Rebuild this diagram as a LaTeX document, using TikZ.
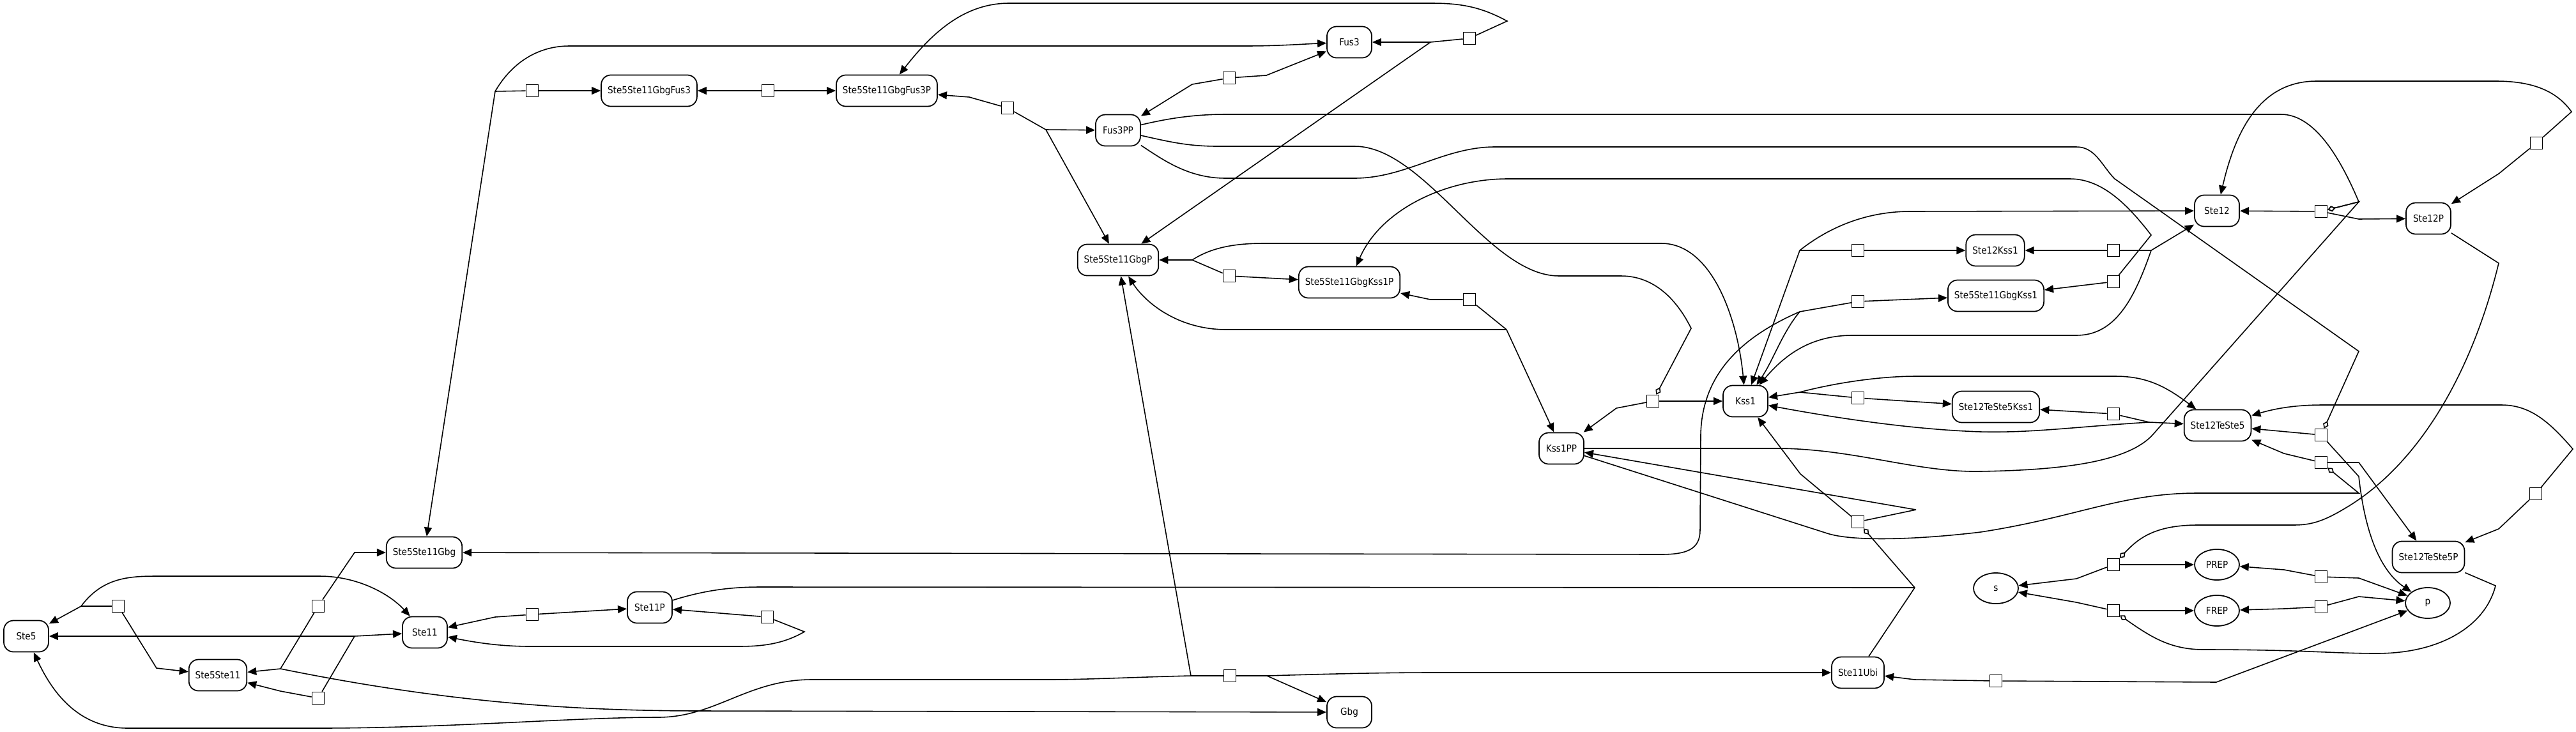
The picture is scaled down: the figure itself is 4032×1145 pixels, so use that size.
\documentclass[tikz,border=0pt]{standalone}
\usepackage{fontspec}
\newfontfamily\cellfont{DejaVu Sans Condensed}
\usetikzlibrary{arrows.meta,shapes.geometric}

\begin{document}
\begin{tikzpicture}[x=0.01cm,y=-0.01cm,>={Triangle[length=4pt,width=3.4pt]},
  line width=0.45pt,
  species node/.style={rectangle,rounded corners=0.15cm,draw,line width=0.5pt,
  font=\cellfont\fontsize{4.3}{5}\selectfont,minimum width=0.7cm,
  minimum height=0.49cm,inner xsep=0.1cm},
  gene node/.style={ellipse,draw,line width=0.5pt,
  font=\cellfont\fontsize{4.3}{5}\selectfont,minimum width=0.7cm,
  minimum height=0.48cm,inner sep=0pt},
  process node/.style={rectangle,draw,fill=white,minimum size=0.19cm,inner sep=0pt},
  mod/.style={-{Diamond[open,length=3.6pt,width=2.6pt]}}]

  \useasboundingbox (0,0) rectangle (4032,1145);

  \node[species node] (Ste5) at (41,996) {Ste5};
  \node[species node] (Ste5Ste11) at (341,1057) {Ste5Ste11};
  \node[species node] (Ste11) at (665,990) {Ste11};
  \node[species node] (Ste11P) at (1017,951) {Ste11P};
  \node[species node] (Ste5Ste11Gbg) at (664,865) {Ste5Ste11Gbg};
  \node[species node] (Ste5Ste11GbgFus3) at (1016,142) {Ste5Ste11GbgFus3};
  \node[species node] (Ste5Ste11GbgFus3P) at (1388,142) {Ste5Ste11GbgFus3P};
  \node[species node] (Fus3) at (2112,66) {Fus3};
  \node[species node] (Fus3PP) at (1750,204) {Fus3PP};
  \node[species node] (Ste5Ste11GbgP) at (1750,407) {Ste5Ste11GbgP};
  \node[species node] (Ste5Ste11GbgKss1P) at (2112,442) {Ste5Ste11GbgKss1P};
  \node[species node] (Ste12Kss1) at (3123,392) {Ste12Kss1};
  \node[species node] (Ste5Ste11GbgKss1) at (3124,463) {Ste5Ste11GbgKss1};
  \node[species node] (Ste12) at (3470,330) {Ste12};
  \node[species node] (Ste12P) at (3801,342) {Ste12P};
  \node[species node] (Kss1) at (2732,628) {Kss1};
  \node[species node] (Kss1PP) at (2444,702) {Kss1PP};
  \node[species node] (Ste12TeSte5Kss1) at (3124,637) {Ste12TeSte5Kss1};
  \node[species node] (Ste12TeSte5) at (3471,666) {Ste12TeSte5};
  \node[species node] (Ste12TeSte5P) at (3801,872) {Ste12TeSte5P};
  \node[species node] (Ste11Ubi) at (2908,1053) {Ste11Ubi};
  \node[species node] (Gbg) at (2112,1115) {Gbg};
  \node[gene node] (s) at (3124,921) {s};
  \node[gene node] (PREP) at (3470,884) {PREP};
  \node[gene node] (FREP) at (3470,956) {FREP};
  \node[gene node] (p) at (3800,944) {p};

  % reaction boxes
  \foreach \n/\x/\y in {r1/185/949, r2/498/949, r3/498/1093, r4/833/962,
      r5/1201/966, r6/833/142, r7/1202/142, r8/1577/169, r9/1924/122,
      r10/2300/60, r11/1924/432, r12/2300/469, r13/1925/1058, r14/2587/628,
      r15/2908/817, r16/2908/392, r17/2908/472, r18/2908/623, r19/3308/392,
      r20/3308/441, r21/3308/648, r22/3633/331, r23/3970/224, r24/3633/681,
      r25/3633/724, r26/3969/773, r27/3308/884, r28/3308/956, r29/3633/903,
      r30/3633/950, r31/3124/1066}
    \node[process node] (\n) at (\x,\y) {};

  \coordinate (j1) at (127,949);
  \coordinate (j2) at (439,1047);
  \coordinate (j3) at (555,996);
  \coordinate (j6) at (775,143);
  \coordinate (j8) at (1637,203);
  \coordinate (j10) at (2239,66);
  \coordinate (j11) at (1866,407);
  \coordinate (j12) at (2358,516);
  \coordinate (j13a) at (1864,1058);
  \coordinate (j13b) at (1983,1058);
  \coordinate (j14) at (2647,514);
  \coordinate (j15a) at (2999,798);
  \coordinate (j15b) at (2997,920);
  \coordinate (j16) at (2817,392);
  \coordinate (j17) at (2817,488);
  \coordinate (j18) at (2817,614);
  \coordinate (j19) at (3367,392);
  \coordinate (j20) at (3367,368);
  \coordinate (j21) at (3364,661);
  \coordinate (j22) at (3692,316);
  \coordinate (j24) at (3692,550);
  \coordinate (j25) at (3692,772);

  % Ste5, Ste11 and their complexes
  \draw (r1) -- (j1);
  \draw[->] (j1) -- (Ste5);
  \draw[->] (j1) .. controls (160,905) and (200,902) .. (245,902) -- (500,902)
    .. controls (560,902) and (610,930) .. (Ste11);
  \draw[->] (r1) -- (245,1046) -- (Ste5Ste11);
  \draw[->] (r2) -- (555,865) -- (Ste5Ste11Gbg);
  \draw (r2) -- (j2);
  \draw[->] (j2) -- (Ste5Ste11);
  \draw[->] (j2) .. controls (700,1100) and (900,1113) .. (1100,1113) -- (Gbg);
  \draw (r3) -- (j3);
  \draw[->] (j3) -- (Ste11);
  \draw[->] (j3) -- (Ste5);
  \draw[->] (r3) -- (439,1082) -- (Ste5Ste11);
  \draw[->] (r4) -- (775,966) -- (Ste11);
  \draw[->] (r4) -- (Ste11P);
  \draw[->] (r5) -- (Ste11P);
  \draw[->] (r5) -- (1259,989) .. controls (1220,1012) and (1180,1012) .. (1150,1012)
    -- (830,1012) .. controls (780,1012) and (740,1005) .. (Ste11);
  \draw (Ste11P) .. controls (1100,925) and (1140,919) .. (1190,919) -- (j15b);
  \draw[mod] (j15b) -- (r15);
  \draw (Ste11Ubi) -- (j15b);

  % Fus3 branch
  \draw (r6) -- (j6);
  \draw[->] (j6) .. controls (800,100) and (840,72) .. (891,72) -- (1950,72)
    .. controls (2000,72) and (2040,69) .. (Fus3);
  \draw[->] (j6) -- (Ste5Ste11Gbg);
  \draw[->] (r6) -- (Ste5Ste11GbgFus3);
  \draw[->] (r7) -- (Ste5Ste11GbgFus3);
  \draw[->] (r7) -- (Ste5Ste11GbgFus3P);
  \draw[->] (r8) -- (1517,152) -- (Ste5Ste11GbgFus3P);
  \draw (r8) -- (j8);
  \draw[->] (j8) -- (Fus3PP);
  \draw[->] (j8) -- (Ste5Ste11GbgP);
  \draw[->] (r10) -- (2359,33) .. controls (2320,12) and (2290,5) .. (2240,5)
    -- (1580,5) .. controls (1510,5) and (1460,50) .. (Ste5Ste11GbgFus3P);
  \draw (r10) -- (j10);
  \draw[->] (j10) -- (Fus3);
  \draw[->] (j10) -- (Ste5Ste11GbgP);
  \draw[->] (r9) -- (1982,118) -- (Fus3);
  \draw[->] (r9) -- (1866,132) -- (Fus3PP);

  % Fus3PP as modifier
  \draw[mod] (Fus3PP) .. controls (1830,185) and (1870,179) .. (1920,179) -- (3570,179)
    .. controls (3620,179) and (3660,240) .. (j22) -- (r22);
  \draw[mod] (Fus3PP) .. controls (1830,222) and (1860,229) .. (1905,229) -- (2120,229)
    .. controls (2230,229) and (2330,432) .. (2440,432) -- (2537,432)
    .. controls (2590,432) and (2625,470) .. (j14) -- (r14);
  \draw[mod] (Fus3PP) .. controls (1820,250) and (1860,279) .. (1918,279) -- (2120,279)
    .. controls (2200,279) and (2260,230) .. (2340,230) -- (3250,230)
    .. controls (3280,230) and (3290,260) .. (3310,280) -- (j24) -- (r24);

  % Kss1 branch
  \draw[->] (r20) -- (j20) .. controls (3330,320) and (3290,280) .. (3240,280)
    -- (2360,280) .. controls (2260,280) and (2160,330) .. (Ste5Ste11GbgKss1P);
  \draw[->] (r20) -- (Ste5Ste11GbgKss1);
  \draw[->] (j11) -- (Ste5Ste11GbgP);
  \draw (j11) -- (r11);
  \draw[->] (r11) -- (Ste5Ste11GbgKss1P);
  \draw[->] (j11) .. controls (1900,385) and (1940,381) .. (1980,381) -- (2600,381)
    .. controls (2680,381) and (2720,500) .. (Kss1);
  \draw[->] (r12) -- (2239,469) -- (Ste5Ste11GbgKss1P);
  \draw (r12) -- (j12);
  \draw[->] (j12) -- (Kss1PP);
  \draw[->] (j12) -- (1920,516) .. controls (1840,516) and (1790,470) .. (Ste5Ste11GbgP);
  \draw (r13) -- (j13a);
  \draw (r13) -- (j13b);
  \draw[->] (j13a) -- (Ste5Ste11GbgP);
  \draw[->] (j13a) .. controls (1780,1060) and (1700,1064) .. (1640,1064) -- (1270,1064)
    .. controls (1170,1064) and (1120,1123) .. (1030,1123)
    .. controls (900,1123) and (700,1140) .. (500,1140) -- (200,1140)
    .. controls (120,1140) and (80,1080) .. (Ste5);
  \draw[->] (j13b) -- (Gbg);
  \draw[->] (j13b) .. controls (2050,1056) and (2150,1053) .. (2240,1053) -- (Ste11Ubi);
  \draw[->] (r14) -- (Kss1);
  \draw[->] (r14) -- (2530,639) -- (Kss1PP);
  \draw[->] (r15) -- (2818,742) -- (Kss1);
  \draw (r15) -- (j15a);
  \draw[->] (j15a) -- (Kss1PP);
  \draw (r16) -- (j16);
  \draw[->] (r16) -- (Ste12Kss1);
  \draw[->] (j16) -- (Kss1);
  \draw[->] (j16) .. controls (2870,350) and (2930,331) .. (2990,331) -- (Ste12);
  \draw (r17) -- (j17);
  \draw[->] (r17) -- (Ste5Ste11GbgKss1);
  \draw[->] (j17) .. controls (2790,520) and (2775,565) .. (Kss1);
  \draw[->] (j17) .. controls (2720,530) and (2664,590) .. (2662,680) -- (2661,830)
    .. controls (2661,860) and (2640,868) .. (2600,868) -- (Ste5Ste11Gbg);
  \draw (r18) -- (j18);
  \draw[->] (j18) -- (Kss1);
  \draw[->] (j18) .. controls (2870,600) and (2940,589) .. (3000,589) -- (3310,589)
    .. controls (3360,589) and (3390,605) .. (Ste12TeSte5);
  \draw[->] (r18) -- (Ste12TeSte5Kss1);
  \draw[->] (r19) -- (Ste12Kss1);
  \draw (r19) -- (j19);
  \draw[->] (j19) -- (Ste12);
  \draw[->] (j19) .. controls (3340,470) and (3310,525) .. (3250,525) -- (2900,525)
    .. controls (2830,525) and (2790,560) .. (Kss1);
  \draw[->] (r21) -- (Ste12TeSte5Kss1);
  \draw (r21) -- (j21);
  \draw[->] (j21) -- (Ste12TeSte5);
  \draw[->] (j21) .. controls (3250,668) and (3180,678) .. (3100,676)
    .. controls (2980,672) and (2850,650) .. (Kss1);

  % Kss1PP as modifier
  \draw[mod] (Kss1PP) -- (2780,702) .. controls (2900,702) and (3000,740) .. (3100,738)
    .. controls (3220,736) and (3330,725) .. (3370,680) -- (j22) -- (r22);
  \draw[mod] (Kss1PP) -- (2860,835) .. controls (2900,848) and (3000,845) .. (3100,833)
    .. controls (3250,810) and (3320,772) .. (3440,772) -- (j25) -- (r25);

  % Ste12 branch
  \draw[->] (r22) -- (Ste12);
  \draw[->] (r22) -- (3692,343) -- (Ste12P);
  \draw[->] (r23) -- (4025,175) .. controls (4000,140) and (3960,127) .. (3906,127)
    -- (3626,127) .. controls (3540,127) and (3500,200) .. (Ste12);
  \draw[->] (r23) -- (3911,272) -- (Ste12P);
  \draw[mod] (Ste12P) -- (3911,412) .. controls (3870,580) and (3790,720) .. (3680,790)
    .. controls (3640,815) and (3620,822) .. (3590,822) -- (3440,822)
    .. controls (3370,822) and (3345,845) .. (r27);
  \draw[->] (r24) -- (Ste12TeSte5);
  \draw[->] (r24) -- (3692,746) .. controls (3700,820) and (3720,890) .. (p);
  \draw[->] (r25) -- (3575,710) -- (Ste12TeSte5);
  \draw[->] (r25) -- (3692,724) -- (Ste12TeSte5P);
  \draw[->] (r26) -- (4027,703) .. controls (3990,660) and (3960,634) .. (3915,634)
    -- (3636,634) .. controls (3590,634) and (3560,640) .. (Ste12TeSte5);
  \draw[->] (r26) -- (3911,828) -- (Ste12TeSte5P);

  % genes
  \draw[->] (r27) -- (3250,906) -- (s);
  \draw[->] (r27) -- (PREP);
  \draw[->] (r28) -- (3250,943) -- (s);
  \draw[->] (r28) -- (FREP);
  \draw[mod] (Ste12TeSte5P) -- (3906,917) .. controls (3890,980) and (3820,1023) .. (3720,1023)
    .. controls (3650,1023) and (3600,1017) .. (3450,1017)
    .. controls (3400,1017) and (3370,1000) .. (r28);
  \draw[->] (r29) -- (3575,892) -- (PREP);
  \draw[->] (r29) -- (3692,905) -- (p);
  \draw[->] (r30) -- (3575,953) -- (FREP);
  \draw[->] (r30) -- (3692,934) -- (p);
  \draw[->] (r31) -- (2997,1064) -- (Ste11Ubi);
  \draw[->] (r31) -- (3469,1068) -- (p);
\end{tikzpicture}
\end{document}
